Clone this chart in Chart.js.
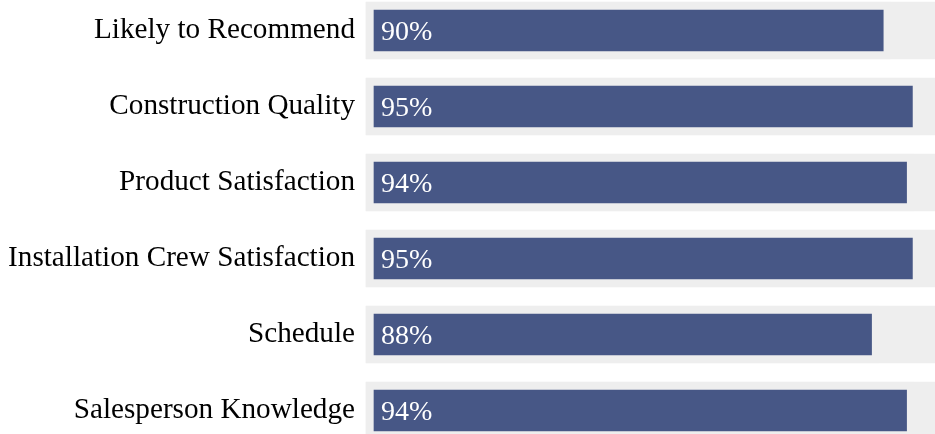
<!DOCTYPE html>
<html><head><meta charset="utf-8">
<script src="https://cdn.jsdelivr.net/npm/chart.js@4/dist/chart.umd.min.js"></script>
<style>html,body{margin:0;padding:0;background:#fff;}#wrap{width:935px;height:434px;}</style>
</head><body><div id="wrap"><canvas id="c" width="935" height="434"></canvas></div>
<script>
const categories = ["Likely to Recommend","Construction Quality","Product Satisfaction","Installation Crew Satisfaction","Schedule","Salesperson Knowledge"];
const scores = [90,95,94,95,88,94];
const track = [100,100,100,100,100,100];

const TRACK = '#eeeeee';
const BLUE = '#475786';
const FONT = '"Liberation Serif", "Times New Roman", serif';

const valueLabels = {
  id: 'valueLabels',
  afterDatasetsDraw(chart) {
    const ctx = chart.ctx;
    const meta = chart.getDatasetMeta(0);
    ctx.save();
    ctx.fillStyle = '#ffffff';
    ctx.font = '28px ' + FONT;
    ctx.textAlign = 'left';
    ctx.textBaseline = 'alphabetic';
    meta.data.forEach((bar, i) => {
      ctx.fillText(scores[i] + '%', bar.base + 15, bar.y + 9.3);
    });
    ctx.restore();
  }
};

new Chart(document.getElementById('c'), {
  type: 'bar',
  data: {
    labels: categories,
    datasets: [
      { data: scores, backgroundColor: BLUE, borderColor: TRACK, borderWidth: 8, borderSkipped: false, barThickness: 57, grouped: false, clip: false },
      { data: track, backgroundColor: TRACK, borderWidth: 0, barThickness: 57, grouped: false, clip: false }
    ]
  },
  options: {
    indexAxis: 'y',
    responsive: false,
    animation: false,
    events: [],
    layout: { padding: { top: 30.5, bottom: 23.5, left: 0, right: 0 } },
    plugins: { legend: { display: false }, tooltip: { enabled: false } },
    scales: {
      x: { display: false, min: 0, max: 97.5 },
      y: {
        offset: false,
        grid: { display: false, drawTicks: false },
        border: { display: false },
        ticks: { color: '#000000', font: { family: FONT, size: 29.2 }, padding: 11, labelOffset: -0.6 },
        afterFit(scale) { scale.width = 366; scale.paddingTop = 0; scale.paddingBottom = 0; }
      }
    }
  },
  plugins: [valueLabels]
});
</script></body></html>
